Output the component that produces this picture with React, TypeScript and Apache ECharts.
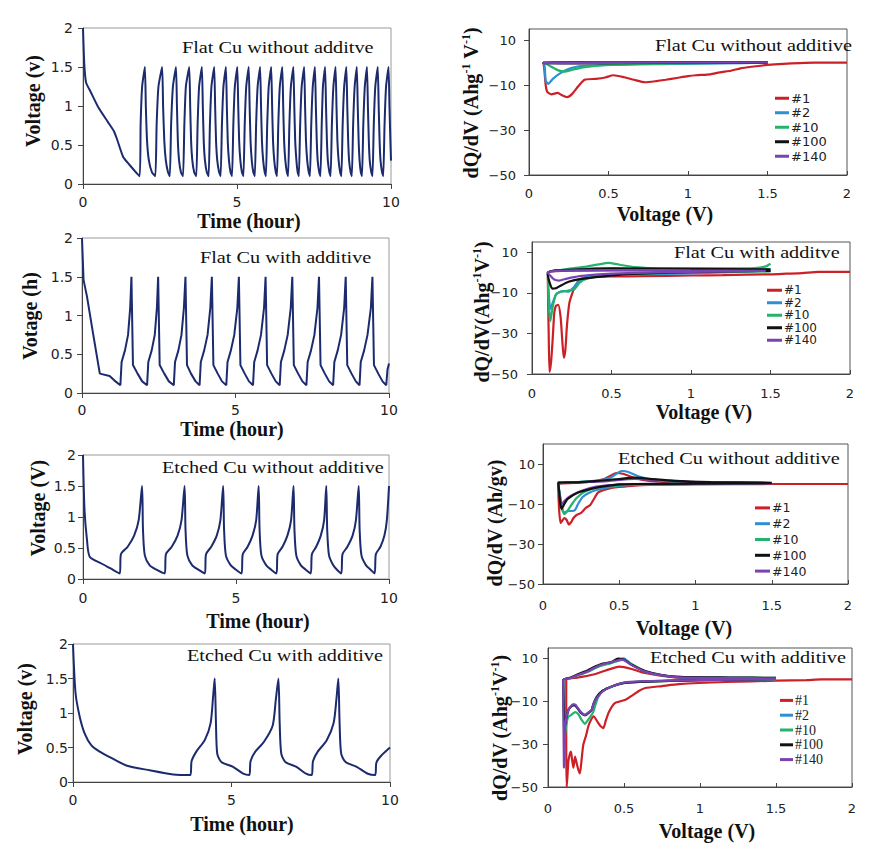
import React, { useEffect, useRef } from 'react';
import * as echarts from 'echarts';

// ---------- categories / names ----------
const CYCLE_NAMES = ['#1', '#2', '#10', '#100', '#140'];
const CYCLE_COLORS = ['#cc2027', '#2f8fd3', '#22b36c', '#111111', '#7b43b2'];
const NAVY = '#1c2b6e';
const TIME_PANEL_TITLES = ['Flat Cu without additve', 'Flat Cu with additive', 'Etched Cu without additive', 'Etched Cu with additive'];
const DQDV_PANEL_TITLES = ['Flat Cu without additive', 'Flat Cu with additve', 'Etched Cu without additive', 'Etched Cu with additive'];
const TIME_Y_TITLES = ['Voltage (v)', 'Votage (h)', 'Voltage (V)', 'Voltage (v)'];
const DQDV_Y_TICKS = [-50, -30, -10, 10];

// ---------- voltage vs time (hour, V) ----------
const flatNoAddTime = [[0,2.0],[0.04,1.55],[0.1,1.3],[0.25,1.18],[0.5,0.98],[0.8,0.8],[1.0,0.68],[1.1,0.58],[1.3,0.35],[1.5,0.25],[1.84,0.1],
[1.87,0.75],[1.92,1.25],[2.01,1.5],[2.04,1.0],[2.08,0.55],[2.14,0.3],[2.24,0.15],
[2.35,0.1],[2.39,0.75],[2.45,1.25],[2.57,1.5],[2.60,1.0],[2.64,0.55],[2.69,0.3],[2.76,0.15],
[2.82,0.1],[2.86,0.75],[2.92,1.25],[3.02,1.5],[3.05,1.0],[3.08,0.55],[3.12,0.3],[3.18,0.15],
[3.25,0.1],[3.29,0.75],[3.34,1.25],[3.45,1.5],[3.48,1.0],[3.51,0.55],[3.55,0.3],[3.61,0.15],
[3.68,0.1],[3.72,0.75],[3.77,1.25],[3.86,1.5],[3.89,1.0],[3.92,0.55],[3.96,0.3],[4.02,0.15],
[4.08,0.1],[4.12,0.75],[4.17,1.25],[4.26,1.5],[4.29,1.0],[4.32,0.55],[4.36,0.3],[4.42,0.15],
[4.47,0.1],[4.51,0.75],[4.56,1.25],[4.64,1.5],[4.67,1.0],[4.70,0.55],[4.74,0.3],[4.79,0.15],
[4.84,0.1],[4.88,0.75],[4.93,1.25],[5.01,1.5],[5.04,1.0],[5.07,0.55],[5.11,0.3],[5.16,0.15],
[5.21,0.1],[5.25,0.75],[5.30,1.25],[5.38,1.5],[5.41,1.0],[5.44,0.55],[5.48,0.3],[5.53,0.15],
[5.58,0.1],[5.62,0.75],[5.67,1.25],[5.75,1.5],[5.78,1.0],[5.81,0.55],[5.85,0.3],[5.90,0.15],
[5.94,0.1],[5.98,0.75],[6.03,1.25],[6.11,1.5],[6.14,1.0],[6.17,0.55],[6.21,0.3],[6.26,0.15],
[6.30,0.1],[6.34,0.75],[6.39,1.25],[6.47,1.5],[6.50,1.0],[6.53,0.55],[6.57,0.3],[6.62,0.15],
[6.66,0.1],[6.70,0.75],[6.75,1.25],[6.83,1.5],[6.86,1.0],[6.89,0.55],[6.93,0.3],[6.97,0.15],
[7.01,0.1],[7.05,0.75],[7.10,1.25],[7.18,1.5],[7.21,1.0],[7.24,0.55],[7.28,0.3],[7.33,0.15],
[7.37,0.1],[7.41,0.75],[7.46,1.25],[7.53,1.5],[7.56,1.0],[7.59,0.55],[7.62,0.3],[7.67,0.15],
[7.71,0.1],[7.75,0.75],[7.79,1.25],[7.86,1.5],[7.89,1.0],[7.92,0.55],[7.95,0.3],[8.00,0.15],
[8.04,0.1],[8.08,0.75],[8.13,1.25],[8.20,1.5],[8.23,1.0],[8.26,0.55],[8.30,0.3],[8.35,0.15],
[8.39,0.1],[8.43,0.75],[8.48,1.25],[8.55,1.5],[8.58,1.0],[8.61,0.55],[8.64,0.3],[8.69,0.15],
[8.73,0.1],[8.77,0.75],[8.82,1.25],[8.89,1.5],[8.92,1.0],[8.95,0.55],[8.98,0.3],[9.02,0.15],
[9.06,0.1],[9.10,0.75],[9.15,1.25],[9.22,1.5],[9.25,1.0],[9.28,0.55],[9.31,0.3],[9.36,0.15],
[9.40,0.1],[9.44,0.75],[9.49,1.25],[9.57,1.5],[9.60,1.0],[9.63,0.55],[9.66,0.3],[9.71,0.15],
[9.75,0.1],[9.79,0.75],[9.84,1.25],[9.92,1.5],[9.95,1.0],[9.98,0.55],[10.0,0.3]];

const flatAddTime = [[0,2.0],[0.05,1.46],[0.16,1.25],[0.36,0.77],[0.58,0.25],[0.9,0.22],[1.06,0.16],
[1.25,0.1],[1.29,0.4],[1.40,0.55],[1.50,0.75],[1.57,1.1],[1.61,1.5],[1.66,0.36],[1.81,0.25],[1.96,0.15],
[2.12,0.1],[2.16,0.4],[2.27,0.55],[2.37,0.75],[2.44,1.1],[2.48,1.5],[2.53,0.36],[2.68,0.25],[2.83,0.15],
[2.99,0.1],[3.03,0.4],[3.14,0.55],[3.24,0.75],[3.32,1.1],[3.37,1.5],[3.42,0.36],[3.55,0.25],[3.70,0.15],
[3.83,0.1],[3.87,0.4],[3.98,0.55],[4.09,0.75],[4.18,1.1],[4.23,1.5],[4.28,0.36],[4.42,0.25],[4.56,0.15],
[4.70,0.1],[4.74,0.4],[4.85,0.55],[4.96,0.75],[5.06,1.1],[5.11,1.5],[5.16,0.36],[5.30,0.25],[5.44,0.15],
[5.57,0.1],[5.61,0.4],[5.72,0.55],[5.83,0.75],[5.93,1.1],[5.98,1.5],[6.03,0.36],[6.17,0.25],[6.31,0.15],
[6.44,0.1],[6.48,0.4],[6.59,0.55],[6.70,0.75],[6.80,1.1],[6.85,1.5],[6.90,0.36],[7.04,0.25],[7.18,0.15],
[7.31,0.1],[7.35,0.4],[7.46,0.55],[7.57,0.75],[7.67,1.1],[7.72,1.5],[7.77,0.36],[7.91,0.25],[8.05,0.15],
[8.18,0.1],[8.22,0.4],[8.33,0.55],[8.44,0.75],[8.54,1.1],[8.59,1.5],[8.64,0.36],[8.78,0.25],[8.92,0.15],
[9.04,0.1],[9.08,0.4],[9.19,0.55],[9.30,0.75],[9.41,1.1],[9.46,1.5],[9.51,0.36],[9.65,0.25],[9.79,0.15],
[9.91,0.1],[9.95,0.3],[10.0,0.38]];

const etchedNoAddTime = [[0,2.0],[0.05,1.11],[0.13,0.63],[0.22,0.36],[0.6,0.25],[0.9,0.17],[1.20,0.09],
[1.24,0.4],[1.46,0.52],[1.67,0.7],[1.82,0.95],[1.93,1.5],[1.96,0.8],[2.02,0.38],[2.18,0.22],[2.4,0.15],[2.67,0.09],
[2.71,0.4],[2.90,0.52],[3.09,0.7],[3.22,0.95],[3.32,1.5],[3.35,0.8],[3.41,0.38],[3.57,0.22],[3.77,0.15],[3.98,0.09],
[4.02,0.4],[4.19,0.52],[4.37,0.7],[4.49,0.95],[4.58,1.5],[4.61,0.8],[4.67,0.38],[4.83,0.22],[5.0,0.15],[5.18,0.09],
[5.22,0.4],[5.38,0.52],[5.54,0.7],[5.66,0.95],[5.74,1.5],[5.77,0.8],[5.83,0.38],[5.99,0.22],[6.15,0.15],[6.32,0.09],
[6.36,0.4],[6.52,0.52],[6.68,0.7],[6.80,0.95],[6.88,1.5],[6.91,0.8],[6.97,0.38],[7.12,0.22],[7.28,0.15],[7.44,0.09],
[7.48,0.4],[7.62,0.52],[7.77,0.7],[7.88,0.95],[7.95,1.5],[7.98,0.8],[8.04,0.38],[8.18,0.22],[8.3,0.15],[8.44,0.09],
[8.48,0.4],[8.64,0.52],[8.81,0.7],[8.92,0.95],[9.01,1.5],[9.04,0.8],[9.10,0.38],[9.25,0.22],[9.4,0.15],[9.53,0.09],
[9.57,0.4],[9.72,0.52],[9.85,0.7],[9.93,0.95],[10.0,1.5]];

const etchedAddTime = [[0,2.0],[0.08,1.29],[0.21,0.95],[0.37,0.7],[0.58,0.53],[0.84,0.44],[1.16,0.36],[1.68,0.24],[2.42,0.17],[3.16,0.11],[3.70,0.1],
[3.74,0.3],[3.89,0.44],[4.16,0.61],[4.34,0.85],[4.42,1.24],[4.47,1.5],[4.51,0.85],[4.55,0.41],[4.68,0.29],[5.05,0.22],[5.37,0.12],[5.56,0.1],
[5.60,0.3],[5.75,0.44],[6.02,0.58],[6.30,0.82],[6.40,1.2],[6.48,1.5],[6.52,0.85],[6.57,0.41],[6.70,0.29],[7.05,0.22],[7.35,0.12],[7.53,0.1],
[7.57,0.3],[7.72,0.44],[8.0,0.6],[8.22,0.85],[8.31,1.2],[8.37,1.5],[8.41,0.85],[8.46,0.41],[8.6,0.29],[8.95,0.22],[9.3,0.12],[9.53,0.1],
[9.57,0.28],[9.72,0.38],[10.0,0.5]];

// ---------- dQ/dV vs voltage (V, Ah g-1 V-1) ----------
// Flat Cu without additive
const fnC1 = [[2.0,0],[1.8,0],[1.7,-0.2],[1.6,-0.5],[1.5,-1.0],[1.4,-1.8],[1.33,-2.5],[1.27,-3.6],[1.2,-4.3],[1.14,-5.2],[1.05,-5.6],[1.0,-6.0],[0.93,-6.8],[0.86,-7.6],[0.8,-8.2],[0.73,-8.7],[0.66,-7.6],[0.6,-6.5],[0.53,-5.6],[0.48,-6.6],[0.42,-7.2],[0.35,-7.6],[0.31,-10.5],[0.27,-14],[0.24,-15.3],[0.2,-14.2],[0.18,-13.4],[0.14,-14.1],[0.115,-13],[0.105,-10],[0.095,-2],[0.09,0],[0.3,0.2],[0.8,0.3],[1.5,0.2]];
const fnC2 = [[1.5,0],[1.2,-0.3],[0.92,-0.5],[0.7,-0.7],[0.5,-1.0],[0.4,-1.3],[0.3,-1.8],[0.24,-3.0],[0.19,-5.0],[0.15,-7.2],[0.12,-9.4],[0.105,-8],[0.1,-3],[0.095,0],[0.3,0.2],[0.6,0.3],[0.92,0.3]];
const fnC10 = [[1.5,0],[1.0,-0.3],[0.6,-0.8],[0.45,-1.2],[0.35,-2],[0.28,-3],[0.22,-4],[0.18,-3.3],[0.14,-1.8],[0.11,-0.5],[0.1,0],[0.5,0.2],[1.0,0.2],[1.5,0.1]];
const fnC100 = [[1.5,0],[0.8,-0.1],[0.3,-0.3],[0.1,-0.2],[0.09,0],[0.5,0.2],[1.0,0.3],[1.5,0.3]];
const fnC140 = [[1.5,0.1],[0.8,0],[0.3,-0.2],[0.1,-0.2],[0.09,0],[0.5,0.1],[1.0,0.2],[1.5,0.2]];

// Flat Cu with additive
const faC1 = [[2.0,0.3],[1.8,0.3],[1.7,-0.3],[1.6,-0.6],[1.5,-0.9],[1.2,-1.3],[1.0,-1.5],[0.7,-1.8],[0.5,-2.0],[0.35,-2.5],[0.3,-3.5],[0.27,-7],[0.25,-11],[0.235,-15],[0.22,-26],[0.21,-38],[0.2,-42],[0.19,-33],[0.18,-22],[0.165,-16],[0.15,-16.5],[0.14,-20],[0.13,-33],[0.12,-44],[0.11,-49],[0.105,-30],[0.1,-5],[0.1,0],[0.2,0.8],[0.5,1.0],[1.0,1.0],[1.5,0.8]];
const faC2 = [[1.5,1.0],[1.0,-0.5],[0.5,-1.2],[0.4,-1.6],[0.33,-2.5],[0.29,-4.6],[0.26,-7.5],[0.23,-9.5],[0.2,-9.2],[0.17,-9.8],[0.15,-11],[0.13,-15],[0.115,-18],[0.105,-10],[0.1,0],[0.2,1.2],[0.4,2],[0.6,1.8],[1.0,1.5],[1.5,1.5]];
const faC10 = [[1.5,0.5],[1.0,0],[0.6,-0.8],[0.45,-1.5],[0.35,-3],[0.3,-5],[0.27,-8],[0.22,-9],[0.18,-9.5],[0.15,-11],[0.13,-17],[0.115,-24],[0.105,-15],[0.1,0],[0.15,0.8],[0.25,2.0],[0.35,3.0],[0.42,4.0],[0.48,4.7],[0.55,3.8],[0.65,2.6],[0.8,2.0],[1.2,2.0],[1.4,2.2],[1.47,3.0],[1.5,4.3]];
const faC100 = [[1.5,0.8],[1.0,0.2],[0.6,-0.8],[0.5,-1.5],[0.4,-2.3],[0.3,-3.3],[0.23,-4.6],[0.18,-6.5],[0.15,-7.8],[0.13,-8],[0.115,-6],[0.1,-1],[0.1,0],[0.15,1.0],[0.3,1.5],[0.5,2.0],[1.0,1.8],[1.5,1.5]];
const faC140 = [[1.47,0.8],[1.0,0.3],[0.6,-0.3],[0.4,-1.0],[0.3,-1.8],[0.22,-3.0],[0.17,-4.0],[0.14,-3.5],[0.12,-2],[0.1,0],[0.15,0.8],[0.3,1.0],[0.6,1.2],[1.0,1.0],[1.47,0.8]];

// Etched Cu without additive
const enC1 = [[2.0,0],[1.5,0],[1.0,-0.2],[0.7,-0.5],[0.6,-0.8],[0.5,-1.5],[0.45,-2.0],[0.4,-3.0],[0.36,-4.3],[0.33,-8],[0.31,-10.5],[0.28,-12],[0.25,-14.4],[0.22,-15.5],[0.2,-17],[0.185,-19],[0.17,-20.3],[0.155,-18],[0.14,-17],[0.125,-18.5],[0.115,-19.5],[0.105,-12],[0.1,0],[0.2,0.5],[0.3,1.0],[0.4,2.5],[0.44,4],[0.48,5.5],[0.53,5.0],[0.6,3.0],[0.7,1.5],[0.9,0.6],[1.2,0.3],[1.4,0.2]];
const enC2 = [[1.5,0.5],[1.0,0],[0.6,-0.5],[0.5,-1.0],[0.42,-1.8],[0.35,-3.0],[0.3,-4.5],[0.26,-6.5],[0.23,-10],[0.21,-13],[0.19,-13.5],[0.16,-13.5],[0.14,-14.5],[0.125,-12],[0.11,-5],[0.1,0],[0.2,0.8],[0.3,1.3],[0.4,2.2],[0.45,3.5],[0.5,6.0],[0.52,6.5],[0.56,6.0],[0.62,4.0],[0.7,2.5],[0.85,1.2],[1.0,0.8],[1.5,0.5]];
const enC10 = [[1.5,0.5],[1.0,0],[0.6,-0.3],[0.45,-0.8],[0.35,-1.8],[0.27,-4.0],[0.22,-7.0],[0.19,-10],[0.16,-13.5],[0.14,-15],[0.12,-11],[0.11,-5],[0.1,0],[0.2,0.8],[0.35,1.5],[0.5,2.3],[0.6,3.0],[0.7,2.5],[0.8,1.5],[0.95,0.8],[1.2,0.5],[1.5,0.5]];
const enC100 = [[1.5,0.5],[1.0,0.2],[0.6,0],[0.5,-0.2],[0.4,-1.2],[0.32,-2.3],[0.23,-4.3],[0.16,-7.6],[0.14,-10],[0.122,-12.5],[0.112,-9],[0.105,-3],[0.1,0.8],[0.2,0.8],[0.35,1.5],[0.5,2.5],[0.6,3.2],[0.7,2.6],[0.86,1.6],[1.1,1.0],[1.5,0.6]];
const enC140 = [[1.5,0.3],[1.0,0.1],[0.6,-0.1],[0.45,-0.5],[0.35,-1.3],[0.25,-3.5],[0.18,-6],[0.14,-8.5],[0.125,-10],[0.112,-7],[0.1,0],[0.2,0.7],[0.4,1.3],[0.6,2.5],[0.75,2],[1.0,1],[1.5,0.5]];

// Etched Cu with additive
const eaC1 = [[2.0,0.3],[1.8,0.3],[1.7,0],[1.5,-0.3],[1.17,-0.9],[0.86,-1.9],[0.75,-2.8],[0.64,-3.7],[0.6,-5],[0.56,-6.9],[0.51,-9.2],[0.44,-10.8],[0.4,-15],[0.38,-19],[0.364,-22.5],[0.345,-21.5],[0.33,-20],[0.3,-17],[0.28,-19],[0.265,-21.7],[0.25,-26],[0.232,-30.3],[0.22,-38],[0.21,-43.6],[0.2,-42],[0.189,-39],[0.178,-35.8],[0.167,-41],[0.158,-37],[0.151,-33.5],[0.142,-35],[0.134,-38],[0.128,-45],[0.123,-50],[0.12,-30],[0.12,0],[0.2,1.2],[0.3,2.6],[0.38,4.5],[0.47,6.3],[0.55,5.2],[0.62,3.6],[0.75,2.0],[0.9,1.0],[1.2,0.8],[1.5,0.8]];
const eaC2 = [[1.5,0.3],[1.0,0],[0.8,-0.3],[0.6,-0.8],[0.5,-1.3],[0.42,-3.0],[0.36,-5],[0.32,-8],[0.3,-11],[0.287,-14],[0.26,-15.5],[0.243,-16.3],[0.22,-15.5],[0.2,-13.5],[0.18,-11.8],[0.165,-11.5],[0.15,-12.5],[0.134,-14],[0.12,-18],[0.11,-24],[0.105,-20],[0.1,0],[0.15,1.0],[0.2,2.5],[0.26,4.0],[0.31,5.8],[0.35,7.0],[0.42,8.3],[0.47,9.6],[0.5,10.2],[0.53,8.5],[0.56,6.8],[0.64,4.0],[0.75,2.2],[0.86,1.2],[1.0,1.0],[1.5,0.8]];
const eaC10 = [[1.5,0.5],[1.0,0],[0.6,-0.8],[0.5,-1.5],[0.42,-3.0],[0.36,-5],[0.33,-8],[0.31,-12],[0.3,-14.5],[0.28,-17],[0.26,-19],[0.243,-20.5],[0.22,-18.5],[0.2,-16],[0.18,-15],[0.167,-15.5],[0.15,-16.5],[0.134,-17],[0.12,-21],[0.11,-27],[0.105,-22],[0.1,0],[0.15,1.0],[0.2,2.3],[0.26,3.8],[0.31,5.5],[0.35,6.7],[0.42,8.0],[0.47,9.2],[0.5,9.5],[0.55,7.5],[0.64,4.0],[0.75,2.2],[0.86,1.5],[1.2,1.2],[1.5,1.0]];
const eaC100 = [[1.5,0.5],[1.0,0],[0.6,-0.8],[0.5,-1.3],[0.42,-3.0],[0.36,-5],[0.32,-8],[0.3,-11],[0.287,-14],[0.26,-15.8],[0.243,-16.5],[0.22,-15.5],[0.2,-13.8],[0.18,-12],[0.165,-11.8],[0.15,-12.5],[0.134,-14],[0.12,-18],[0.11,-22],[0.1,0],[0.15,1.2],[0.2,2.8],[0.26,4.5],[0.3,6.0],[0.35,7.5],[0.42,8.5],[0.46,10.0],[0.5,9.5],[0.55,7.2],[0.64,4.2],[0.75,2.3],[0.86,1.5],[1.2,1.2],[1.5,1.0]];
const eaC140 = [[1.5,0.5],[1.0,0],[0.6,-0.6],[0.5,-1.2],[0.42,-3.0],[0.36,-5.3],[0.32,-8.5],[0.3,-11],[0.287,-14],[0.26,-15.5],[0.243,-16.3],[0.22,-15.2],[0.2,-13.5],[0.18,-11.5],[0.165,-11.3],[0.15,-12.3],[0.134,-13.9],[0.115,-20],[0.108,-30],[0.105,-41],[0.102,-20],[0.1,0],[0.15,1.0],[0.2,2.5],[0.26,4.0],[0.31,5.9],[0.35,7.2],[0.42,8.4],[0.48,9.6],[0.5,9.3],[0.55,7.0],[0.64,4.0],[0.75,2.2],[0.86,1.3],[1.2,1.0],[1.5,0.8]];

// ---------- layout ----------
const TIME_GRIDS = [
  { left: 83, top: 28, width: 308, height: 156 },
  { left: 82, top: 238, width: 307, height: 155 },
  { left: 83, top: 455, width: 306, height: 124 },
  { left: 73, top: 644, width: 317, height: 138 },
];
const DQDV_GRIDS = [
  { left: 529, top: 29, width: 318, height: 146 },
  { left: 532, top: 242, width: 318, height: 132 },
  { left: 543, top: 444, width: 305, height: 140 },
  { left: 548, top: 648, width: 304, height: 139 },
];

const SERIF = '"Liberation Serif", "Times New Roman", serif';
const SANS = '"DejaVu Sans", sans-serif';

export default function App() {
  const ref = useRef<HTMLDivElement>(null);
  useEffect(() => {
    if (!ref.current) return;
    const chart = echarts.init(ref.current, undefined, { renderer: 'svg' });

    const timeData = [flatNoAddTime, flatAddTime, etchedNoAddTime, etchedAddTime];
    const timeSmooth = [0.15, 0, 0.25, 0.25];
    const dqdvData = [
      [fnC1, fnC2, fnC10, fnC100, fnC140],
      [faC1, faC2, faC10, faC100, faC140],
      [enC1, enC2, enC10, enC100, enC140],
      [eaC1, eaC2, eaC10, eaC100, eaC140],
    ];
    const dqdvDrawOrder = [
      [0, 1, 2, 3, 4],
      [0, 1, 2, 3, 4],
      [0, 1, 2, 4, 3],
      [0, 1, 2, 3, 4],
    ];
    const dqdvYMax = [15, 15, 20, 15];
    const timeXMargin = [11, 10, 12, 11];
    const timeYMargin = [10, 9, 7, 5];
    const dqdvXMargin = [12, 13, 15, 15];
    const dqdvYMargin = [13, 14, 8, 10];

    const grid: any[] = [];
    const xAxis: any[] = [];
    const yAxis: any[] = [];
    const series: any[] = [];

    TIME_GRIDS.forEach((g, i) => {
      const gi = grid.length;
      grid.push({ ...g, show: true, borderColor: '#9a9a9a', borderWidth: 1, backgroundColor: 'transparent' });
      xAxis.push({
        type: 'value', gridIndex: gi, min: 0, max: 10, interval: 5,
        axisLine: { onZero: false, lineStyle: { color: '#444', width: 1 } },
        axisTick: { show: true, length: 5, lineStyle: { color: '#444' } },
        axisLabel: { margin: timeXMargin[i], fontSize: 14, fontFamily: SANS, color: '#222' },
        splitLine: { show: false },
      });
      yAxis.push({
        type: 'value', gridIndex: gi, min: 0, max: 2, interval: 0.5,
        axisLine: { show: true, onZero: false, lineStyle: { color: '#444', width: 1 } },
        axisTick: { show: true, length: 5, lineStyle: { color: '#444' } },
        axisLabel: { margin: timeYMargin[i], fontSize: 14, fontFamily: SANS, color: '#222' },
        splitLine: { show: false },
      });
      series.push({
        type: 'line', name: TIME_PANEL_TITLES[i], xAxisIndex: gi, yAxisIndex: gi,
        data: timeData[i], symbol: 'none', smooth: timeSmooth[i],
        lineStyle: { color: NAVY, width: 2 },
      });
    });

    DQDV_GRIDS.forEach((g, i) => {
      const gi = grid.length;
      grid.push({ ...g, show: true, borderColor: '#555', borderWidth: 1, backgroundColor: 'transparent' });
      xAxis.push({
        type: 'value', gridIndex: gi, min: 0, max: 2, interval: 0.5,
        axisLine: { onZero: false, lineStyle: { color: '#444', width: 1 } },
        axisTick: { show: true, inside: true, length: 4, lineStyle: { color: '#444' } },
        axisLabel: { margin: dqdvXMargin[i], fontSize: 13, fontFamily: SANS, color: '#222' },
        splitLine: { show: false },
      });
      yAxis.push({
        type: 'value', gridIndex: gi, min: -50, max: dqdvYMax[i],
        axisLine: { show: true, onZero: false, lineStyle: { color: '#444', width: 1 } },
        axisTick: { show: true, length: 5, customValues: DQDV_Y_TICKS, lineStyle: { color: '#444' } },
        axisLabel: {
          margin: dqdvYMargin[i], fontSize: 13, fontFamily: SANS, color: '#222',
          customValues: DQDV_Y_TICKS,
          formatter: (v: number) => String(v).replace('-', '\u2212'),
        },
        splitLine: { show: false },
      });
      dqdvDrawOrder[i].forEach((k) => {
        series.push({
          type: 'line', name: CYCLE_NAMES[k], xAxisIndex: gi, yAxisIndex: gi,
          data: dqdvData[i][k], symbol: 'none', smooth: 0.2,
          color: CYCLE_COLORS[k],
          lineStyle: { color: CYCLE_COLORS[k], width: 2.2 },
        });
      });
    });

    const legendPos = [
      { left: 775, top: 91, lh: 14.5, fs: 13, ff: SANS, w: 14 },
      { left: 767, top: 284, lh: 12.5, fs: 12, ff: SANS, w: 15 },
      { left: 755, top: 500, lh: 15.8, fs: 12.5, ff: SANS, w: 15 },
      { left: 780, top: 693, lh: 14.8, fs: 14, ff: SERIF, w: 13 },
    ];
    const legend = legendPos.map((p) => ({
      orient: 'vertical', left: p.left, top: p.top, padding: 0, itemGap: 0,
      itemWidth: p.w, itemHeight: 3, icon: 'rect', selectedMode: false,
      data: CYCLE_NAMES,
      textStyle: { fontFamily: p.ff, fontSize: p.fs, lineHeight: p.lh, color: '#222', padding: [0, 0, 0, -3] },
    }));

    const graphic: any[] = [];
    const txt = (x: number, y: number, text: string, font: string, extra: any = {}, align = 'center') => ({
      type: 'text', x, y, z: 10, ...extra,
      style: { text, font, fill: '#111', align, verticalAlign: 'middle', textAlign: align, textVerticalAlign: 'middle' },
    });
    const rotTxt = (x: number, y: number, style: any) => ({
      type: 'text', x, y, z: 10, rotation: Math.PI / 2,
      style: { fill: '#111', align: 'center', verticalAlign: 'middle', textAlign: 'center', textVerticalAlign: 'middle', ...style },
    });

    // panel annotations
    const annot = [
      [182, 47, TIME_PANEL_TITLES[0]], [200, 257, TIME_PANEL_TITLES[1]], [162, 467, TIME_PANEL_TITLES[2]], [187, 655, TIME_PANEL_TITLES[3]],
      [655, 45, DQDV_PANEL_TITLES[0]], [674, 252, DQDV_PANEL_TITLES[1]], [618, 458, DQDV_PANEL_TITLES[2]], [650, 657, DQDV_PANEL_TITLES[3]],
    ] as [number, number, string][];
    annot.forEach(([x, y, t]) => graphic.push(txt(x, y, t, `17px ${SERIF}`, { scaleX: 1.19 }, 'left')));

    // x axis titles
    const xt = [
      [249, 221, 'Time (hour)'], [232, 429, 'Time (hour)'], [258, 621, 'Time (hour)'], [242, 824, 'Time (hour)'],
      [665, 214, 'Voltage (V)'], [704, 412, 'Voltage (V)'], [684, 628, 'Voltage (V)'], [707, 831, 'Voltage (V)'],
    ] as [number, number, string][];
    xt.forEach(([x, y, t]) => graphic.push(txt(x, y, t, `bold 20px ${SERIF}`)));

    // y titles, time panels
    const yt = [[33, 101], [30, 316], [38, 508], [25, 709]];
    yt.forEach(([x, y], i) => graphic.push(rotTxt(x, y, { text: TIME_Y_TITLES[i], font: `bold 20px ${SERIF}` })));

    // y titles, dQ/dV panels
    const rich = {
      b: { fontSize: 20, fontWeight: 'bold', fontFamily: SERIF, lineHeight: 22, fill: '#111', color: '#111' },
      s: { fontSize: 12, fontWeight: 'bold', fontFamily: SERIF, lineHeight: 22, verticalAlign: 'top', fill: '#111', color: '#111' },
    };
    graphic.push(rotTxt(471, 103, { text: '{b|dQ/dV (Ahg}{s|-1}{b| V}{s|-1}{b|)}', rich }));
    graphic.push(rotTxt(482, 312, { text: '{b|dQ/dV(Ahg}{s|-1}{b|V}{s|-1}{b|)}', rich }));
    graphic.push(rotTxt(495, 523, { text: 'dQ/dV (Ah/gv)', font: `bold 20px ${SERIF}` }));
    graphic.push(rotTxt(500, 728, { text: '{b|dQ/dV (Ahg}{s|-1}{b|V}{s|-1}{b|)}', rich }));

    chart.setOption({
      animation: false,
      backgroundColor: '#ffffff',
      grid, xAxis, yAxis, series, legend, graphic,
    });
    return () => chart.dispose();
  }, []);
  return <div ref={ref} style={{ position: 'absolute', left: 0, top: 0, width: 896, height: 860, background: '#fff' }} />;
}
